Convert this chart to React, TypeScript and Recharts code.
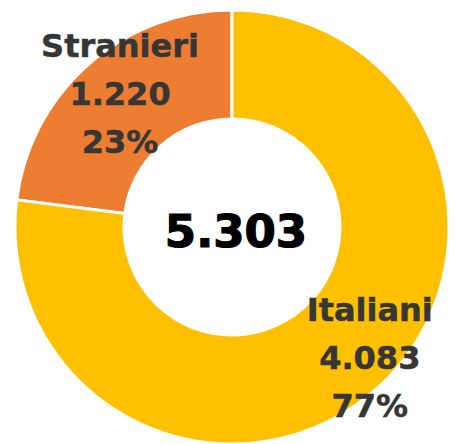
import { PieChart, Pie, Cell } from 'recharts';

const categories = ['Stranieri', 'Italiani'];
const counts = [1220, 4083];
const percents = ['23%', '77%'];
const totalLabel = '5.303';
const colors = ['#ED7D31', '#FFC000'];

const data = categories.map((name, i) => ({ name, value: counts[i], pct: percents[i] }));

const RAD = Math.PI / 180;
const fmt = (v: number) => v.toLocaleString('it-IT');

function renderLabel(props: any) {
  const { cx, cy, midAngle, outerRadius, index, name, value, pct } = props;
  // stranieri sits inside the ring, italiani hugs the outer edge
  const r = index === 0 ? outerRadius * 0.78 : outerRadius * 0.96;
  const x = cx + r * Math.cos(-midAngle * RAD);
  const y = cy + r * Math.sin(-midAngle * RAD) + (index === 0 ? -7 : -26);
  const style = {
    fontFamily: 'DejaVu Sans',
    fontWeight: 700,
    fontSize: 32,
    fill: '#363636',
    stroke: '#363636',
    strokeWidth: 0.5,
  };
  return (
    <text x={x} y={y} textAnchor="middle" style={style}>
      <tspan x={x} dy={-36}>{name}</tspan>
      <tspan x={x} dy={48}>{fmt(value)}</tspan>
      <tspan x={x} dy={48}>{pct}</tspan>
    </text>
  );
}

export default function App() {
  return (
    <div style={{ position: 'absolute', left: 0, top: 0, width: 456, height: 444, background: '#fff' }}>
      <PieChart width={456} height={444} margin={{ top: 0, right: 0, bottom: 0, left: 0 }}>
        <Pie
          data={data}
          dataKey="value"
          nameKey="name"
          cx={232}
          cy={227}
          innerRadius={108}
          outerRadius={217}
          startAngle={90}
          endAngle={450}
          stroke="#ffffff"
          strokeWidth={3}
          label={renderLabel}
          labelLine={false}
          isAnimationActive={false}
        >
          {data.map((d, i) => (
            <Cell key={d.name} fill={colors[i]} />
          ))}
        </Pie>
        <text
          x={236}
          y={231}
          textAnchor="middle"
          dominantBaseline="central"
          style={{
            fontFamily: 'DejaVu Sans',
            fontWeight: 700,
            fontSize: 45,
            fill: '#000000',
            stroke: '#000000',
            strokeWidth: 1.2,
          }}
        >
          {totalLabel}
        </text>
      </PieChart>
    </div>
  );
}
